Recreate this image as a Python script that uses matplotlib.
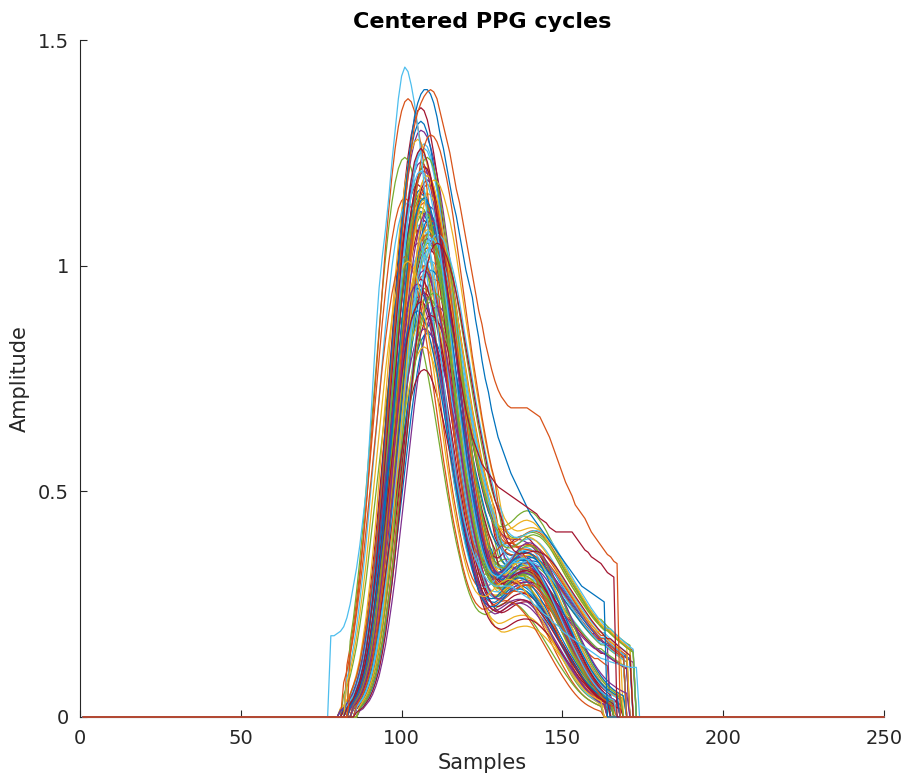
import matplotlib.pyplot as plt
import numpy as np

# sample axis of every stored cycle
samples = np.arange(1, 251)

# normalised pulse shapes, one value per sample from sample 80
template_start = 80
template_narrow = [
    0.0, 0.005, 0.01, 0.015, 0.02, 0.03, 0.04, 0.055, 0.075, 0.10,
    0.135, 0.175, 0.225, 0.28, 0.34, 0.41, 0.48, 0.55, 0.62, 0.69,
    0.76, 0.82, 0.875, 0.92, 0.955, 0.98, 0.995, 1.0, 0.995, 0.98,
    0.955, 0.925, 0.89, 0.85, 0.805, 0.76, 0.71, 0.66, 0.61, 0.56,
    0.515, 0.47, 0.43, 0.395, 0.36, 0.33, 0.305, 0.285, 0.27, 0.26,
    0.255, 0.252, 0.255, 0.26, 0.266, 0.272, 0.277, 0.28, 0.282, 0.282,
    0.28, 0.276, 0.27, 0.262, 0.253, 0.243, 0.232, 0.22, 0.207, 0.194,
    0.181, 0.168, 0.155, 0.142, 0.129, 0.117, 0.105, 0.094, 0.083, 0.073,
    0.064, 0.056, 0.049, 0.043, 0.038, 0.034, 0.03, 0.027, 0.024, 0.022,
    0.02, 0.018, 0.017, 0.016, 0.015, 0.014, 0.013, 0.012, 0.012,
]
template_wide = [
    0.0, 0.005, 0.01, 0.015, 0.02, 0.03, 0.04, 0.055, 0.075, 0.10,
    0.135, 0.175, 0.225, 0.28, 0.34, 0.41, 0.48, 0.55, 0.62, 0.69,
    0.76, 0.82, 0.875, 0.92, 0.955, 0.98, 0.995, 1.0, 0.997, 0.988,
    0.972, 0.95, 0.925, 0.895, 0.86, 0.82, 0.78, 0.74, 0.70, 0.66,
    0.62, 0.585, 0.55, 0.515, 0.485, 0.455, 0.43, 0.41, 0.37, 0.35,
    0.335, 0.322, 0.313, 0.307, 0.304, 0.303, 0.303, 0.303, 0.302, 0.30,
    0.297, 0.293, 0.288, 0.282, 0.275, 0.267, 0.259, 0.25, 0.241, 0.232,
    0.223, 0.214, 0.205, 0.196, 0.187, 0.178, 0.17, 0.162, 0.155, 0.148,
    0.142, 0.142, 0.136, 0.13, 0.125, 0.12, 0.115, 0.11, 0.106, 0.102,
    0.098, 0.095, 0.092, 0.09, 0.088, 0.086, 0.084, 0.082, 0.08,
]
templates = [template_narrow, template_wide]

# diastolic wave that some cycles carry on top, from sample 122
bump_start = 122
bump = [
    0.0, 0.02, 0.05, 0.09, 0.15, 0.22, 0.30, 0.40, 0.50, 0.60,
    0.70, 0.78, 0.85, 0.91, 0.95, 0.98, 1.0, 1.0, 1.0, 0.98,
    0.95, 0.92, 0.88, 0.84, 0.80, 0.76, 0.72, 0.69, 0.66, 0.64,
    0.62, 0.60, 0.58, 0.56, 0.545, 0.53, 0.515, 0.50, 0.49, 0.48,
    0.47, 0.46, 0.45, 0.44, 0.43, 0.42, 0.41, 0.40, 0.40, 0.39,
    0.39, 0.38, 0.38, 0.37, 0.37, 0.36, 0.36,
]

# per-cycle values
cycle_peak = [
    1.12, 0.98, 1.20, 1.05, 0.92, 1.25, 1.10, 0.88, 1.15, 1.02, 1.30, 0.95,
    1.08, 1.18, 0.85, 1.22, 1.00, 1.13, 0.90, 1.27, 1.04, 1.16, 0.97, 1.09,
    1.21, 0.93, 1.11, 1.35, 0.99, 1.14, 0.87, 1.06, 1.24, 1.01, 0.94, 1.17,
    1.07, 1.28, 0.91, 1.12, 1.03, 1.19, 0.96, 1.10, 0.82, 1.23, 1.05, 1.14,
    0.89, 1.32, 1.00, 1.16, 0.93, 1.09, 1.26, 0.97, 1.11, 1.02, 1.20, 0.86,
    1.13, 1.04, 1.22, 0.95, 1.37, 1.08, 0.99, 1.15, 1.06, 0.77, 0.90, 1.18,
    1.19, 0.96, 1.24, 1.07, 0.92, 1.15, 1.29, 1.01, 1.12, 0.94, 1.21, 1.05,
]
cycle_shift = [
    -1, 0, 1, -2, 2, -1, 0, 3, -6, 1, -1, 0,
    2, -2, 1, 0, -1, 2, -5, 0, 1, -1, 3, -2,
    0, 1, -2, -1, 2, 0, -1, 1, -6, 2, 0, -1,
    1, -2, 4, 0, -1, 1, -2, 2, 0, -1, 1, -5,
    2, -1, 0, 1, -2, 3, 0, -1, 2, -6, 1, 0,
    -1, 2, 0, -2, -5, 1, 0, -1, 2, 0, -2, 1,
    3, -2, 1, 4, -1, 0, 2, -5, 1, 3, -1, 4,
]
cycle_shape = [
    0, 1, 0, 0, 1, 0, 0, 1, 0, 0, 1, 0,
    1, 0, 1, 0, 0, 0, 0, 0, 1, 0, 1, 0,
    0, 1, 0, 0, 1, 0, 0, 0, 0, 1, 0, 0,
    1, 0, 1, 0, 0, 0, 0, 1, 0, 0, 1, 0,
    1, 0, 0, 1, 0, 1, 0, 0, 0, 0, 0, 1,
    0, 1, 0, 0, 0, 1, 0, 0, 1, 0, 0, 0,
    1, 0, 0, 1, 0, 0, 1, 0, 0, 1, 0, 1,
]
cycle_extra = [
    0.02, -0.02, 0.04, 0.00, 0.06, -0.03, 0.01, 0.08, -0.01, 0.03, 0.00, 0.05,
    -0.02, 0.02, 0.10, -0.04, 0.03, 0.01, 0.00, -0.02, 0.05, 0.02, 0.12, -0.01,
    0.00, 0.04, -0.03, 0.02, 0.07, 0.01, -0.02, 0.03, 0.00, 0.09, -0.01, 0.02,
    0.04, -0.02, 0.06, 0.00, 0.03, -0.01, 0.02, 0.05, -0.03, 0.01, 0.14, 0.00,
    0.03, -0.02, 0.01, 0.05, -0.01, 0.08, 0.02, 0.00, 0.04, -0.03, 0.02, 0.06,
    0.01, 0.03, -0.02, 0.04, 0.00, 0.11, 0.02, -0.01, 0.05, 0.00, 0.03, -0.04,
    0.06, -0.01, 0.03, 0.09, 0.00, 0.04, -0.02, 0.02, 0.07, 0.12, 0.01, 0.05,
]
cycle_start = [
    83, 85, 84, 82, 86, 83, 84, 87, 83, 85, 82, 84,
    86, 81, 85, 84, 83, 85, 82, 84, 85, 82, 87, 81,
    84, 85, 82, 83, 86, 84, 82, 85, 84, 86, 84, 83,
    85, 81, 87, 84, 83, 85, 81, 86, 84, 82, 85, 83,
    86, 82, 84, 85, 81, 87, 84, 83, 86, 82, 85, 84,
    83, 86, 84, 81, 84, 85, 84, 83, 86, 85, 82, 85,
    87, 81, 85, 86, 82, 84, 86, 83, 85, 87, 83, 86,
]
cycle_end = [
    166, 164, 168, 163, 170, 165, 167, 171, 162, 168, 164, 169,
    170, 163, 169, 166, 165, 168, 162, 166, 169, 164, 172, 163,
    167, 169, 164, 165, 171, 166, 163, 168, 162, 170, 166, 165,
    169, 164, 172, 166, 165, 168, 163, 170, 166, 164, 171, 162,
    170, 165, 166, 168, 163, 172, 167, 165, 169, 162, 168, 170,
    165, 169, 166, 164, 163, 170, 167, 165, 169, 168, 164, 166,
    171, 163, 168, 172, 164, 167, 169, 162, 170, 172, 166, 171,
]

# cycles that stand out from the bundle
early_start = 78
early_cycle = [
    0.18, 0.18, 0.185, 0.19, 0.20, 0.22, 0.25, 0.29, 0.33, 0.38,
    0.44, 0.50, 0.61, 0.73, 0.85, 0.95, 1.02, 1.08, 1.15, 1.23,
    1.30, 1.37, 1.42, 1.44, 1.43, 1.40, 1.36, 1.31, 1.25, 1.18,
    1.10, 1.02, 0.95, 0.88, 0.81, 0.75, 0.69, 0.63, 0.58, 0.53,
    0.49, 0.45, 0.42, 0.39, 0.37, 0.35, 0.335, 0.32, 0.31, 0.30,
    0.295, 0.29, 0.29, 0.29, 0.29, 0.29, 0.29, 0.285, 0.28, 0.275,
    0.27, 0.265, 0.26, 0.25, 0.245, 0.24, 0.23, 0.225, 0.22, 0.21,
    0.205, 0.20, 0.19, 0.185, 0.18, 0.175, 0.17, 0.165, 0.16, 0.155,
    0.15, 0.145, 0.14, 0.135, 0.13, 0.128, 0.125, 0.122, 0.12, 0.118,
    0.116, 0.114, 0.112, 0.11, 0.11, 0.11,
]
tall_start = 83
tall_cycle = [
    0.02, 0.03, 0.04, 0.06, 0.08, 0.11, 0.15, 0.20, 0.26, 0.33,
    0.41, 0.50, 0.59, 0.69, 0.79, 0.89, 0.98, 1.07, 1.15, 1.22,
    1.28, 1.33, 1.36, 1.38, 1.39, 1.39, 1.38, 1.36, 1.33, 1.29,
    1.26, 1.22, 1.18, 1.14, 1.11, 1.07, 1.03, 0.99, 0.96, 0.93,
    0.88, 0.84, 0.79, 0.75, 0.72, 0.68, 0.65, 0.62, 0.60, 0.58,
    0.56, 0.54, 0.525, 0.51, 0.495, 0.48, 0.465, 0.45, 0.44, 0.43,
    0.42, 0.41, 0.40, 0.39, 0.38, 0.37, 0.36, 0.35, 0.34, 0.33,
    0.32, 0.31, 0.30, 0.29, 0.285, 0.28, 0.275, 0.27, 0.265, 0.26,
    0.255,
]
plateau_start = 83
plateau_cycle = [
    0.02, 0.03, 0.04, 0.06, 0.08, 0.11, 0.15, 0.20, 0.26, 0.33,
    0.41, 0.49, 0.58, 0.67, 0.76, 0.85, 0.93, 1.01, 1.08, 1.14,
    1.19, 1.23, 1.25, 1.26, 1.25, 1.23, 1.20, 1.16, 1.11, 1.06,
    1.01, 0.96, 0.91, 0.86, 0.81, 0.76, 0.72, 0.68, 0.65, 0.62,
    0.60, 0.58, 0.56, 0.55, 0.54, 0.53, 0.52, 0.51, 0.505, 0.50,
    0.495, 0.49, 0.485, 0.48, 0.475, 0.47, 0.465, 0.46, 0.455, 0.45,
    0.44, 0.435, 0.43, 0.42, 0.415, 0.41, 0.41, 0.41, 0.41, 0.41,
    0.41, 0.40, 0.39, 0.38, 0.37, 0.365, 0.355, 0.35, 0.345, 0.34,
    0.33, 0.32, 0.315, 0.31,
]
late_start = 84
late_cycle = [
    0.05, 0.07, 0.09, 0.12, 0.16, 0.20, 0.25, 0.31, 0.38, 0.45,
    0.53, 0.61, 0.70, 0.79, 0.88, 0.97, 1.05, 1.13, 1.20, 1.26,
    1.31, 1.34, 1.36, 1.375, 1.385, 1.39, 1.385, 1.37, 1.34, 1.31,
    1.28, 1.25, 1.21, 1.17, 1.14, 1.10, 1.06, 1.02, 0.98, 0.94,
    0.90, 0.87, 0.83, 0.80, 0.77, 0.745, 0.725, 0.71, 0.70, 0.69,
    0.685, 0.685, 0.685, 0.685, 0.685, 0.685, 0.68, 0.675, 0.67, 0.665,
    0.65, 0.635, 0.62, 0.60, 0.58, 0.56, 0.54, 0.52, 0.505, 0.49,
    0.47, 0.46, 0.45, 0.44, 0.425, 0.41, 0.40, 0.39, 0.38, 0.37,
    0.36, 0.355, 0.345, 0.34,
]

colors = ['#0072BD', '#D95319', '#EDB120', '#7E2F8E', '#77AC30', '#4DBEEE', '#A2142F']


def cycle_curve(shape, shift, peak, extra, start, end):
    tpl = templates[shape]
    y = np.zeros(len(samples))
    for i, s in enumerate(samples):
        if start <= s <= end:
            k = s - shift - template_start
            v = peak * tpl[k] if 0 <= k < len(tpl) else 0.0
            kb = s - shift - bump_start
            if 0 <= kb < len(bump):
                v += extra * bump[kb]
            y[i] = max(v, 0.0)
    return y


def listed_curve(start, values):
    y = np.zeros(len(samples))
    y[start - 1:start - 1 + len(values)] = values
    return y


fig = plt.figure(figsize=(9.06, 7.83), dpi=100)
ax = fig.add_axes([0.0883, 0.0843, 0.8874, 0.8646])

for i in range(len(cycle_peak)):
    y = cycle_curve(cycle_shape[i], cycle_shift[i], cycle_peak[i], cycle_extra[i],
                    cycle_start[i], cycle_end[i])
    ax.plot(samples, y, color=colors[i % 7], lw=0.9, clip_on=False, zorder=3)

ax.plot(samples, listed_curve(early_start, early_cycle), color=colors[5], lw=0.9, clip_on=False, zorder=3)
ax.plot(samples, listed_curve(tall_start, tall_cycle), color=colors[0], lw=0.9, clip_on=False, zorder=3)
ax.plot(samples, listed_curve(plateau_start, plateau_cycle), color=colors[6], lw=0.9, clip_on=False, zorder=3)
ax.plot(samples, listed_curve(late_start, late_cycle), color=colors[1], lw=0.9, clip_on=False, zorder=3)

ax.set_xlim(0, 250)
ax.set_ylim(0, 1.5)
ax.set_xticks([0, 50, 100, 150, 200, 250])
ax.set_yticks([0, 0.5, 1, 1.5])
ax.set_yticklabels(['0', '0.5', '1', '1.5'])

for side in ['top', 'right']:
    ax.spines[side].set_visible(False)
for side in ['left', 'bottom']:
    ax.spines[side].set_color('#262626')
    ax.spines[side].set_linewidth(0.8)
ax.tick_params(direction='in', length=5, width=0.8, colors='#262626', labelsize=14)
ax.tick_params(axis='x', pad=9)
ax.tick_params(axis='y', pad=8)

ax.set_xlabel('Samples', fontsize=15, color='#262626', labelpad=3)
ax.set_ylabel('Amplitude', fontsize=15, color='#262626', labelpad=6)
ax.set_title('Centered PPG cycles', fontsize=16, fontweight='bold', pad=9)

fig.savefig('out.png', dpi=100)
